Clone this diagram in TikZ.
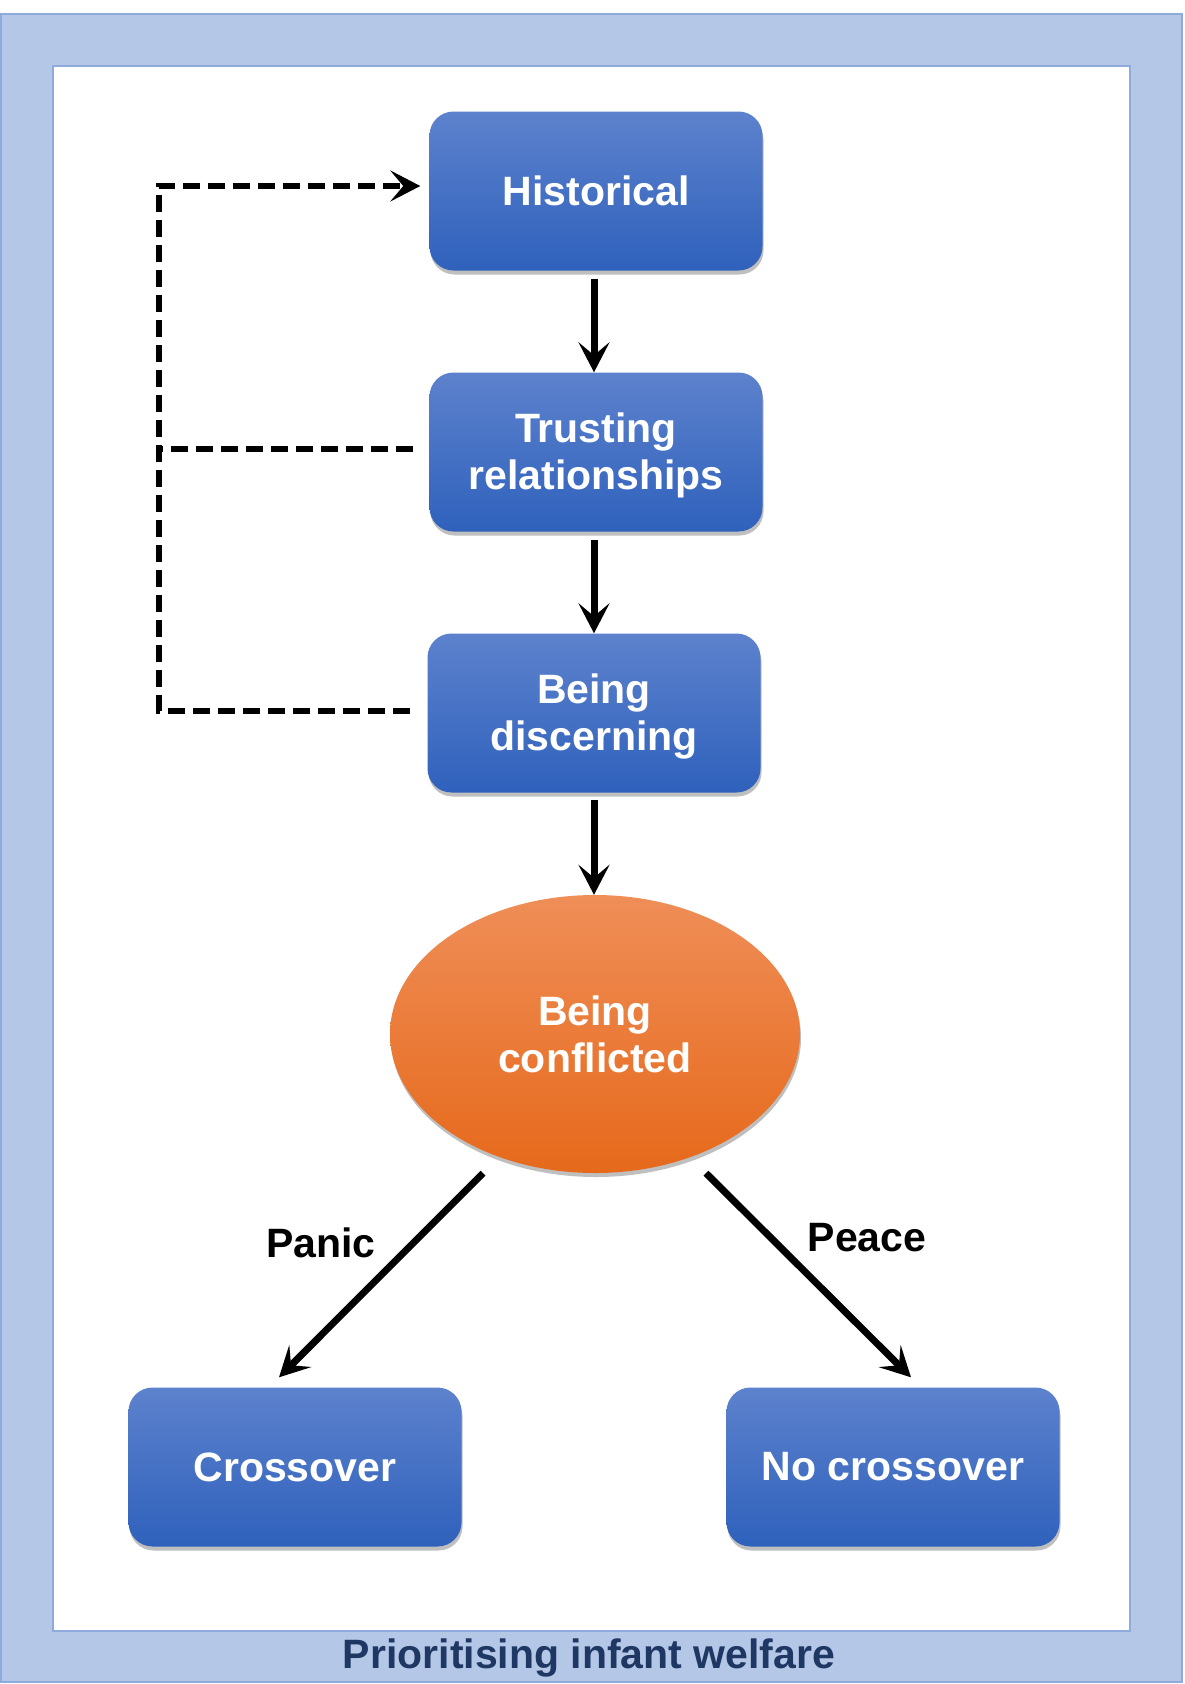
\documentclass[tikz,border=0pt]{standalone}
\usepackage{fontspec}
\setmainfont{Liberation Sans}
\usetikzlibrary{arrows.meta,shapes.geometric,shadows,calc}
\definecolor{framefill}{HTML}{B4C7E7}
\definecolor{frameline}{HTML}{8FAADC}
\definecolor{btop}{HTML}{5D82CD}
\definecolor{bbot}{HTML}{2F61BC}
\definecolor{otop}{HTML}{EF8E58}
\definecolor{omid}{HTML}{F07D2E}
\definecolor{obot}{HTML}{E6691B}
\definecolor{titlec}{HTML}{1F3763}
\newcommand{\twolines}[2]{\raisebox{-5pt}[\height][\depth]{\begin{tabular}{@{}c@{}}#1\\#2\end{tabular}}}
\begin{document}
\begin{tikzpicture}[x=1pt,y=-1pt,
  bluebox/.style={draw=none, rounded corners=24pt, minimum width=333pt, minimum height=159pt,
    top color=btop, bottom color=bbot, text=white, inner sep=0pt,
    font=\fontsize{41}{47}\selectfont\bfseries, align=center,
    drop shadow={shadow xshift=1pt, shadow yshift=-4pt, opacity=0.25, fill=black}},
  orangeell/.style={ellipse, draw=none, minimum width=410pt, minimum height=278pt, inner sep=0pt,
    top color=otop, middle color=omid, bottom color=obot, text=white,
    font=\fontsize{41}{47}\selectfont\bfseries, align=center,
    drop shadow={shadow xshift=1pt, shadow yshift=-4pt, opacity=0.25, fill=black}},
  lbl/.style={font=\fontsize{41}{47}\selectfont\bfseries, text=black},
  tip/.style={-{Stealth[length=30pt,width=31pt,inset=13pt]}},
  arr/.style={line width=7pt, tip},
  dsh/.style={line width=6pt, dash pattern=on 17pt off 8pt}
]
\useasboundingbox (0,0) rectangle (1185,1684);
\fill[white] (0,0) rectangle (1185,1684);
% frame
\draw[fill=framefill, draw=frameline, line width=2pt] (1,14) rectangle (1182,1682);
\draw[fill=white, draw=frameline, line width=2pt] (53,66) rectangle (1130,1631);
\node[font=\fontsize{41}{47}\selectfont\bfseries, text=titlec] (title) at (589,1658) {Prioritising infant welfare};

% nodes
\node[bluebox] (hist) at (596,191) {Historical};
\node[bluebox] (trust) at (596,452) {\twolines{Trusting}{relationships}};
\node[bluebox] (disc) at (594,713) {\twolines{Being}{discerning}};
\node[orangeell] (ell) at (595,1034) {Being\\conflicted};
\node[bluebox] (cross) at (295,1467) {Crossover};
\node[bluebox] (nocross) at (893,1467) {No crossover};

% solid arrows
\draw[arr] ([xshift=-2pt,yshift=-8pt]hist.south) -- ([xshift=-2pt]hist.south |- trust.north);
\draw[arr] ([xshift=-2pt,yshift=-8pt]trust.south) -- ([xshift=-2pt]trust.south |- disc.north);
\draw[arr] ([yshift=-7pt]disc.south) -- (disc.south |- ell.north);
\draw[arr] ([xshift=-112pt]ell.south) -- ([xshift=-16pt,yshift=10pt]cross.north);
\draw[arr] ([xshift=111pt]ell.south) -- ([xshift=18pt,yshift=10pt]nocross.north);
\node[lbl] (panic) at (321,1243) {Panic};
\node[lbl] (peace) at (867,1238) {Peace};

% dashed feedback
\coordinate (ct) at (159,186);
\coordinate (dw) at ([xshift=-17pt,yshift=2pt]disc.west);
\coordinate (tw) at ([xshift=-16pt,yshift=3pt]trust.west);
\draw[dsh, -{Stealth[length=30pt,width=31pt,inset=13pt]}] (dw) -| (ct) -- ([xshift=-9pt,yshift=5pt]hist.west);
\draw[dsh] (tw) -- (ct |- tw);
\end{tikzpicture}
\end{document}
